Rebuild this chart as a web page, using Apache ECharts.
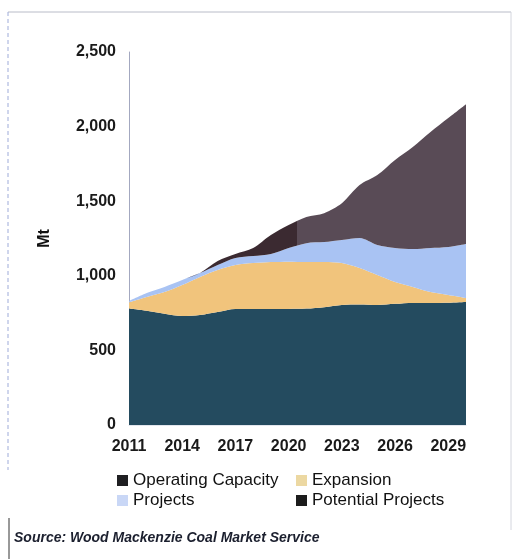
<!DOCTYPE html>
<html>
<head>
<meta charset="utf-8">
<script src="https://cdn.jsdelivr.net/npm/echarts@6/dist/echarts.min.js"></script>
<style>
  html, body { margin: 0; padding: 0; background: #fff; }
  #chart { width: 517px; height: 559px; }
</style>
</head>
<body>
<div id="chart"></div>
<script>
// Seaborne thermal coal supply capacity, Mt
const years = ['2011','2012','2013','2014','2015','2016','2017','2018','2019','2020',
               '2021','2022','2023','2024','2025','2026','2027','2028','2029','2030'];
const operatingCapacity = [780, 765, 745, 730, 737, 757, 778, 778, 778, 778,
                           780, 790, 805, 808, 805, 812, 818, 818, 820, 825];
const expansion         = [42, 93, 146, 208, 255, 282, 294, 307, 314, 317,
                           312, 302, 280, 244, 200, 146, 107, 73, 51, 26];
const projects          = [8, 26, 34, 34, 26, 33, 47, 47, 54, 91,
                           127, 134, 155, 201, 201, 228, 254, 295, 322, 362];
const potentialProjects = [0, 0, 0, 0, 0, 27, 27, 54, 127, 154,
                           175, 194, 247, 355, 469, 590, 684, 777, 864, 937];
const yTicks = [0, 500, 1000, 1500, 2000, 2500];

const chart = echarts.init(document.getElementById('chart'));
const FONT = 'Arial, Liberation Sans, sans-serif';

function areaSeries(name, data, color) {
  return {
    name: name,
    type: 'line',
    stack: 'supply',
    data: data,
    smooth: 0.3,
    showSymbol: false,
    lineStyle: { width: 0 },
    areaStyle: { color: color, opacity: 1 },
    itemStyle: { color: color },
    emphasis: { disabled: true }
  };
}

// Potential projects: darker fill through 2020, lighter afterwards
const potentialFill = new echarts.graphic.LinearGradient(0, 0, 1, 0, [
  { offset: 0, color: '#3b2a31' },
  { offset: 0.5, color: '#3b2a31' },
  { offset: 0.5, color: '#594b56' },
  { offset: 1, color: '#594b56' }
]);

const legendText = { fontFamily: FONT, fontSize: 17, color: '#111' };

chart.setOption({
  animation: false,
  backgroundColor: '#fff',
  grid: { left: 129, right: 51, top: 52, bottom: 134, containLabel: false },
  xAxis: {
    type: 'category',
    data: years,
    boundaryGap: false,
    axisLine: { show: true, lineStyle: { color: '#e3e6ee', width: 1 } },
    axisTick: { show: false },
    axisLabel: {
      interval: 2,
      margin: 14,
      fontFamily: FONT,
      fontSize: 16,
      fontWeight: 'bold',
      color: '#1a1a1a'
    }
  },
  yAxis: {
    type: 'value',
    min: yTicks[0],
    max: yTicks[yTicks.length - 1],
    interval: 500,
    name: 'Mt',
    nameLocation: 'middle',
    nameGap: 76,
    nameTextStyle: {
      fontFamily: FONT,
      fontSize: 16,
      fontWeight: 'bold',
      color: '#111'
    },
    splitLine: { show: false },
    axisTick: { show: false },
    axisLine: { show: true, lineStyle: { color: '#a3a8c0', width: 1 } },
    axisLabel: {
      margin: 13,
      fontFamily: FONT,
      fontSize: 16,
      fontWeight: 'bold',
      color: '#1a1a1a',
      formatter: v => v.toLocaleString('en-US')
    }
  },
  legend: [
    {
      orient: 'vertical',
      left: 112,
      top: 467,
      itemWidth: 11,
      itemHeight: 11,
      itemGap: 3,
      icon: 'rect',
      textStyle: legendText,
      data: [
        { name: 'Operating Capacity', itemStyle: { color: '#1f1f22' } },
        { name: 'Projects', itemStyle: { color: '#c9d7f6' } }
      ]
    },
    {
      orient: 'vertical',
      left: 291,
      top: 467,
      itemWidth: 11,
      itemHeight: 11,
      itemGap: 3,
      icon: 'rect',
      textStyle: legendText,
      data: [
        { name: 'Expansion', itemStyle: { color: '#ecd8a2' } },
        { name: 'Potential Projects', itemStyle: { color: '#1c1c1c' } }
      ]
    }
  ],
  series: [
    areaSeries('Operating Capacity', operatingCapacity, '#244b5f'),
    areaSeries('Expansion', expansion, '#f1c47c'),
    areaSeries('Projects', projects, '#a9c3f3'),
    areaSeries('Potential Projects', potentialProjects, potentialFill)
  ],
  graphic: [
    // page frame
    { type: 'line', shape: { x1: 8, y1: 12, x2: 511, y2: 12 }, style: { stroke: '#b9bcc8', lineWidth: 1 } },
    { type: 'line', shape: { x1: 511, y1: 12, x2: 511, y2: 530 }, style: { stroke: '#d4d6de', lineWidth: 1 } },
    { type: 'line', shape: { x1: 8, y1: 12, x2: 8, y2: 470 }, style: { stroke: '#9eabd9', lineWidth: 1, lineDash: [4, 3] } },
    { type: 'line', shape: { x1: 9, y1: 518, x2: 9, y2: 559 }, style: { stroke: '#333', lineWidth: 1 } },
    {
      type: 'text',
      left: 14,
      top: 531,
      style: {
        text: 'Source: Wood Mackenzie Coal Market Service',
        font: 'italic bold 14px Arial, Liberation Sans, sans-serif',
        fill: '#1b1f2e'
      }
    }
  ]
});
</script>
</body>
</html>
